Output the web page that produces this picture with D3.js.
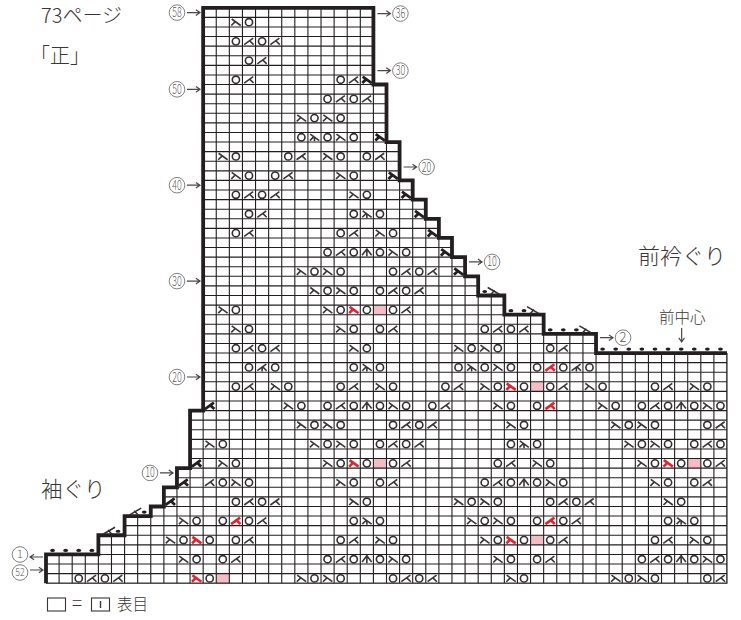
<!DOCTYPE html>
<html>
<head>
<meta charset="utf-8">
<script src="https://cdn.jsdelivr.net/npm/d3@7"></script>
<style>
  html, body { margin: 0; padding: 0; background: #fff; }
  text { font-family: "Noto Sans CJK JP", "Noto Sans", sans-serif; fill: #3a3536; }
</style>
</head>
<body>
<div id="chart"></div>
<script>
// grid size: stitches across, rows down (row lines counted from the top)
const colCount = 52;
const rowCount = 60;

// shaped edge of the piece, as [column line, row line]
const outlineSteps = [
  [0, 60], [0, 57], [4, 57], [4, 55], [6, 55], [6, 53], [8, 53], [8, 52], [9, 52], [9, 50],
  [10, 50], [10, 48], [11, 48], [11, 42], [12, 42], [12, 0], [25, 0], [25, 8], [26, 8], [26, 14],
  [27, 14], [27, 18], [28, 18], [28, 20], [29, 20], [29, 22], [30, 22], [30, 24], [31, 24], [31, 26],
  [32, 26], [32, 28], [33, 28], [33, 30], [35, 30], [35, 32], [38, 32], [38, 34], [42, 34], [42, 36], [52, 36]
];

// stitches per row: "column+symbol"
// O yarn over, R / L decreases, C centre double, A / B three together,
// r / l the bold edge decreases, X / Y the red ones, P the pink cell
const stitchRows = [
  [1, "14R 15O"],
  [3, "14O 15L 16O 17L"],
  [5, "15O 16L"],
  [7, "14O 15L 22O 23L 24r"],
  [9, "21O 22L 23O 24L"],
  [11, "19R 20O 21R 22O"],
  [13, "19O 20A 21O 22R 23O 25r"],
  [15, "13R 14O 18O 19L 21R 22O 24O 25L"],
  [17, "14R 15O 17O 18L 22R 23O 26r"],
  [19, "14O 15L 16O 17L 23R 24O 27r"],
  [21, "15O 16L 23O 24A 25O 28r"],
  [23, "14O 15L 22O 23L 25R 26O 29r"],
  [25, "21O 22L 23O 24C 25O 26R 27O 30r"],
  [27, "19R 20O 21R 22O 26O 27L 28O 29L 31r"],
  [29, "20R 21O 22R 23O 25O 26L 27O 28L"],
  [31, "13R 14O 21R 22O 23X 24O 25P 26O 27L"],
  [33, "14R 15O 22R 23O 25O 26L 33O 34L 35O 36L"],
  [35, "14O 15L 16O 17L 23R 24O 31R 32O 33R 34O 38O 39L"],
  [37, "15O 16B 17O 23O 24A 25O 31O 32A 33O 34R 35O 37O 38Y 39O 40B 41O"],
  [39, "14O 15L 17R 18O 22O 23L 25R 26O 30O 31L 33R 34O 35X 36O 37P 38O 39L 41R 42O 46O 47L 49R 50O"],
  [41, "12l 18R 19O 21O 22L 23O 24C 25O 26R 27O 29O 30L 34R 35O 37O 38Y 42R 43O 45O 46L 47O 48C 49O 50R 51O"],
  [43, "19R 20O 21R 22O 26O 27L 28O 29L 35R 36O 43R 44O 45R 46O 50O 51L"],
  [45, "12R 13O 20R 21O 22R 23O 25O 26L 27O 28L 35O 36A 37O 44R 45O 46R 47O 49O 50L 51O"],
  [47, "11l 13R 14O 21R 22O 23X 24O 25P 26O 27L 34O 35L 37R 38O 45R 46O 47X 48O 49P 50O 51L"],
  [49, "10l 12L 13O 14R 15O 22R 23O 25O 26L 33O 34L 35O 36C 37O 38R 39O 46R 47O 49O 50L"],
  [51, "9l 14O 15L 16O 17L 23R 24O 31R 32O 33R 34O 38O 39L 40O 41L 47R 48O"],
  [53, "10R 11O 13O 14Y 15O 16L 23O 24A 25O 32R 33O 34R 35O 37O 38Y 39O 40L 47O 48A 49O"],
  [55, "9R 10O 11X 12O 14O 15L 22O 23L 25R 26O 33R 34O 35X 36O 37P 38O 39L 46O 47L 49R 50O"],
  [57, "10R 11O 13O 14L 21O 22L 23O 24C 25O 26R 27O 34R 35O 37O 38L 45O 46L 47O 48C 49O 50R 51O"],
  [59, "2O 3L 4O 5L 11X 12O 13P 19R 20O 21R 22O 26O 27L 28O 29L 35R 36O 43R 44O 45R 46O 50O 51L"]
];

// bound-off stitches sitting on the ledges: [column, row line]
const ledgeDots = [
  [0, 57], [1, 57], [2, 57], [3, 57],
  [35, 32], [38, 34], [39, 34],
  [42, 36], [43, 36], [44, 36], [45, 36], [46, 36], [47, 36], [48, 36], [49, 36], [50, 36], [51, 36]
];
// dot with a long slanting stroke: [column, row line, direction]
const ledgeHooks = [
  [5, 55, -1], [7, 53, -1],
  [33, 30, 1], [36, 32, 1], [40, 34, 1]
];

// row numbers in circles
const leftLabels = [58, 50, 40, 30, 20];
const rightLabels = [["36", 25, 0.6], ["30", 25, 6.55], ["20", 27, 16.6], ["10", 32, 26.5], ["2", 42, 34.4]];

const width = 741, height = 620;
const ink = "#231f20";

const svg = d3.select("#chart").append("svg")
  .attr("width", width)
  .attr("height", height)
  .style("display", "block");

const x = d3.scaleLinear().domain([0, colCount]).range([46, 727]);
const y = d3.scaleLinear().domain([0, rowCount]).range([7.8, 583.2]);

// the grid only exists inside the shaped edge
const outlinePath = d3.line().x(d => x(d[0])).y(d => y(d[1]));
svg.append("clipPath").attr("id", "shape")
  .append("path")
  .attr("d", outlinePath(outlineSteps.concat([[52, 60]])) + "Z");

const cells = svg.append("g");

// pink cells go under the lines
const stitches = stitchRows.flatMap(([row, s]) => s.split(" ").map(t => ({
  row,
  col: +t.slice(0, -1),
  kind: t.slice(-1)
})));

cells.selectAll("rect.pink")
  .data(stitches.filter(d => d.kind === "P"))
  .join("rect")
  .attr("class", "pink")
  .attr("x", d => x(d.col))
  .attr("y", d => y(d.row))
  .attr("width", x(1) - x(0))
  .attr("height", y(1) - y(0))
  .attr("fill", "#f5bcc6");

const grid = svg.append("g")
  .attr("clip-path", "url(#shape)")
  .attr("stroke", ink)
  .attr("stroke-width", 1.1);

grid.selectAll("line.v")
  .data(d3.range(0, colCount + 1))
  .join("line")
  .attr("class", "v")
  .attr("x1", d => x(d)).attr("x2", d => x(d))
  .attr("y1", y(0)).attr("y2", y(rowCount));

grid.selectAll("line.h")
  .data(d3.range(0, rowCount + 1))
  .join("line")
  .attr("class", "h")
  .attr("x1", x(0)).attr("x2", x(colCount))
  .attr("y1", d => y(d)).attr("y2", d => y(d));

// closing edges, the clip would cut them in half
svg.append("path")
  .attr("d", `M${x(52)},${y(36)}V${y(60)}H${x(0)}`)
  .attr("fill", "none")
  .attr("stroke", ink)
  .attr("stroke-width", 1.1);

svg.append("path")
  .attr("d", outlinePath(outlineSteps))
  .attr("fill", "none")
  .attr("stroke", "#231f20")
  .attr("stroke-width", 3.8)
  .attr("stroke-linecap", "butt")
  .attr("stroke-linejoin", "miter");

// stitch glyphs, drawn round the cell centre
const glyphs = {
  R: "M-4.2,-3.2L4.8,3.3M-0.6,-0.6L-4.6,3.3",
  L: "M4.2,-3.2L-4.8,3.3M0.6,-0.6L4.6,3.3",
  C: "M0,-4.2V4M0,-3.4L-4.8,2.8M0,-3.4L4.8,2.8",
  A: "M-4.2,-3.2L4.8,3.3M-0.6,-0.6L-4.6,3.3M0,0V4",
  B: "M4.2,-3.2L-4.8,3.3M0.6,-0.6L4.6,3.3M0,0V4"
};
const styled = {
  R: { path: glyphs.R, color: "#3a3536", w: 1.6 },
  L: { path: glyphs.L, color: "#3a3536", w: 1.6 },
  C: { path: glyphs.C, color: "#3a3536", w: 1.6 },
  A: { path: glyphs.A, color: "#3a3536", w: 1.6 },
  B: { path: glyphs.B, color: "#3a3536", w: 1.6 },
  r: { path: glyphs.R, color: "#231f20", w: 2.8 },
  l: { path: glyphs.L, color: "#231f20", w: 2.8 },
  X: { path: glyphs.R, color: "#e8212e", w: 2.6 },
  Y: { path: glyphs.L, color: "#e8212e", w: 2.6 }
};

const cx = d => x(d + 0.5);
const cy = d => y(d + 0.5);

svg.append("g").selectAll("circle")
  .data(stitches.filter(d => d.kind === "O"))
  .join("circle")
  .attr("cx", d => cx(d.col))
  .attr("cy", d => cy(d.row))
  .attr("r", 3.6)
  .attr("fill", "none")
  .attr("stroke", "#332e2f")
  .attr("stroke-width", 1.6);

svg.append("g").selectAll("path")
  .data(stitches.filter(d => styled[d.kind]))
  .join("path")
  .attr("transform", d => `translate(${cx(d.col)},${cy(d.row)})`)
  .attr("d", d => styled[d.kind].path)
  .attr("fill", "none")
  .attr("stroke", d => styled[d.kind].color)
  .attr("stroke-width", d => styled[d.kind].w);

// ledge marks
svg.append("g").selectAll("ellipse")
  .data(ledgeDots.concat(ledgeHooks))
  .join("ellipse")
  .attr("cx", d => cx(d[0]))
  .attr("cy", d => y(d[1]) - 4)
  .attr("rx", 2.4)
  .attr("ry", 1.6)
  .attr("fill", "#231f20");

svg.append("g").selectAll("path")
  .data(ledgeHooks)
  .join("path")
  .attr("transform", d => `translate(${cx(d[0])},${y(d[1]) - 4}) scale(${d[2]},1)`)
  .attr("d", "M3,-4L15,3M6,3L10,-1.2")
  .attr("fill", "none")
  .attr("stroke", "#332e2f")
  .attr("stroke-width", 1.5);

// arrows and circled row numbers
function arrow(x0, y0, x1, y1) {
  const a = Math.atan2(y1 - y0, x1 - x0), h = 5;
  const p = s => [x1 - h * Math.cos(a + s), y1 - h * Math.sin(a + s)];
  const [ax, ay] = p(0.6), [bx, by] = p(-0.6);
  svg.append("path")
    .attr("d", `M${x0},${y0}L${x1},${y1}M${ax},${ay}L${x1},${y1}L${bx},${by}`)
    .attr("fill", "none")
    .attr("stroke", "#4a4546")
    .attr("stroke-width", 1.2);
}

function circled(px, py, label, size = 13) {
  svg.append("circle")
    .attr("cx", px).attr("cy", py).attr("r", 7.8)
    .attr("fill", "#fff")
    .attr("stroke", "#5a5556")
    .attr("stroke-width", 0.75);
  const t = svg.append("text")
    .attr("x", px)
    .attr("y", py + size * 0.35)
    .attr("text-anchor", "middle")
    .attr("font-size", size)
    .attr("font-weight", 300)
    .attr("fill-opacity", 0.85)
    .text(label);
  if (label.length > 1) t.attr("textLength", 9.5).attr("lengthAdjust", "spacingAndGlyphs");
}

leftLabels.forEach(n => {
  const py = y(58.5 - n);
  circled(177, py, String(n));
  arrow(187, py, 200, py);
});
circled(150, y(48.5), "10");
arrow(160, y(48.5), 173, y(48.5));

rightLabels.forEach(([label, col, row]) => {
  const px = x(col) + 4, py = y(row);
  arrow(px, py, px + 13, py);
  circled(px + 23, py, label);
});

// these two nearly touch, so smaller digits
circled(20, 554.5, "1", 11);
arrow(43, 557, 30, 557);
circled(20, 572.5, "52", 11);
arrow(30, 570, 43, 570);

arrow(x(48.5) + 0.5, 328, x(48.5) + 0.5, 342);

// notes
const note = (px, py, size, s) => svg.append("text")
  .attr("x", px).attr("y", py).attr("font-size", size).attr("font-weight", 300).text(s);

note(41, 23, 20, "73ページ");
note(30, 63, 20, "「正」");
note(638, 264, 22, "前衿ぐり");
note(659, 323, 15.5, "前中心");
note(41, 497, 21.5, "袖ぐり");

// legend
svg.append("rect")
  .attr("x", 47.5).attr("y", 598).attr("width", 18).attr("height", 13)
  .attr("fill", "#fff").attr("stroke", "#3a3536").attr("stroke-width", 1.1);
note(72, 610, 19, "=");
svg.append("rect")
  .attr("x", 91.5).attr("y", 598).attr("width", 18).attr("height", 13)
  .attr("fill", "#fff").attr("stroke", "#3a3536").attr("stroke-width", 1.1);
svg.append("path").attr("d", "M100.5,601V608").attr("stroke", "#3a3536").attr("stroke-width", 1.4);
note(117, 610, 15.5, "表目");
</script>
</body>
</html>
